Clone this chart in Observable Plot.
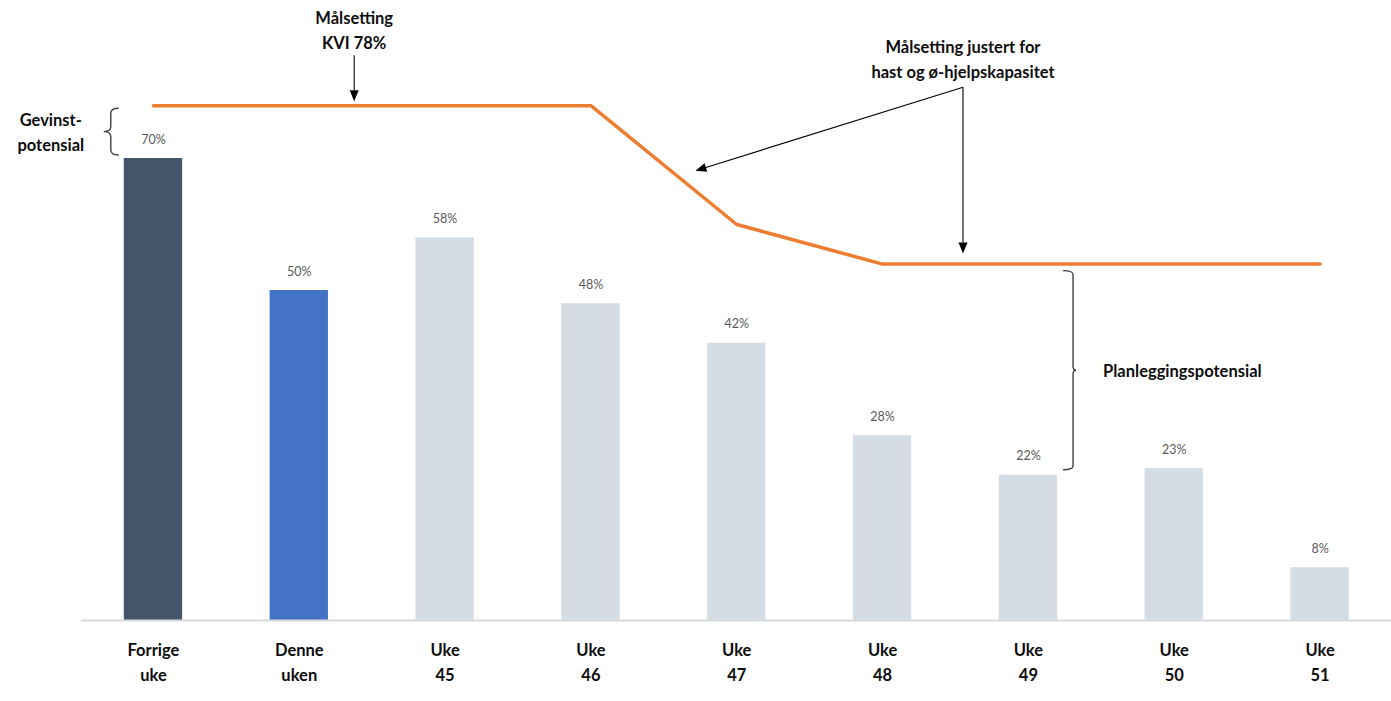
<!DOCTYPE html>
<html>
<head>
<meta charset="utf-8">
<script src="https://cdn.jsdelivr.net/npm/d3@7"></script>
<script src="https://cdn.jsdelivr.net/npm/@observablehq/plot@0.6"></script>
<style>
  html, body { margin: 0; padding: 0; background: #ffffff; }
  #chart { width: 1391px; height: 701px; }
</style>
</head>
<body>
<div id="chart"></div>
<script>
// ---- data ----
const categories = ["Forrige uke", "Denne uken", "Uke 45", "Uke 46", "Uke 47", "Uke 48", "Uke 49", "Uke 50", "Uke 51"];
const values = [70, 50, 58, 48, 42, 28, 22, 23, 8];
const targets = [78, 78, 78, 78, 60, 54, 54, 54, 54];
const barColors = ["#44546a", "#4472c4", "#d6dce5", "#d6dce5", "#d6dce5", "#d6dce5", "#d6dce5", "#d6dce5", "#d6dce5"];
const valueLabels = values.map(v => v + "%");

const goalNote = ["Målsetting", "KVI 78%"];
const adjustedNote = ["Målsetting justert for", "hast og ø-hjelpskapasitet"];
const gainNote = ["Gevinst-", "potensial"];
const planNote = "Planleggingspotensial";

const FONT = "Lato, 'Open Sans', sans-serif";

const rows = categories.map((c, i) => ({cat: c, value: values[i], target: targets[i], color: barColors[i], label: valueLabels[i]}));

// ---- annotation layer (drawn with the plot's scales) ----
function annotations(index, scales) {
  const x = scales.x, y = scales.y;
  const bw = x.bandwidth(), step = x.step();
  const cx = (cat, f = 0) => x(cat) + bw / 2 + f * step;
  const g = d3.create("svg:g").attr("font-family", FONT);

  function arrow(x1, y1, x2, y2) {
    const L = 11, H = 4.5;
    const dx = x2 - x1, dy = y2 - y1, len = Math.hypot(dx, dy);
    const ux = dx / len, uy = dy / len;
    const bx = x2 - ux * L, by = y2 - uy * L;
    g.append("line").attr("x1", x1).attr("y1", y1).attr("x2", bx).attr("y2", by)
      .attr("stroke", "#000").attr("stroke-width", 1.1);
    g.append("polygon")
      .attr("points", `${x2},${y2} ${bx - uy * H},${by + ux * H} ${bx + uy * H},${by - ux * H}`)
      .attr("fill", "#000");
  }
  function brace(xs, yT, yB, dir, e, t, r) {
    const ym = (yT + yB) / 2;
    const xe = xs - dir * e, xt = xs + dir * t;
    const d = `M${xe},${yT} Q${xs},${yT} ${xs},${yT + r} L${xs},${ym - r} Q${xs},${ym} ${xt},${ym} ` +
              `Q${xs},${ym} ${xs},${ym + r} L${xs},${yB - r} Q${xs},${yB} ${xe},${yB}`;
    g.append("path").attr("d", d).attr("fill", "none").attr("stroke", "#404040").attr("stroke-width", 1.4);
  }
  function label(lines, px, py, anchor, gap = 25) {
    const t = g.append("text").attr("text-anchor", anchor).attr("font-weight", "bold")
      .attr("font-size", 16.5).attr("fill", "#0d0d0d");
    lines.forEach((s, i) => t.append("tspan").attr("x", px).attr("y", py + i * gap).attr("dy", "0.35em").text(s));
  }

  // Goal 78% note
  const gx = cx(categories[1], 0.38);
  const gStart = y(targets[0]) - 50, gTip = y(targets[0]) - 4;
  label(goalNote, gx, gStart - 37, "middle");
  arrow(gx, gStart, gx, gTip);

  // Adjusted goal note
  const ax = cx(categories[5], 0.555);
  const aStart = y(targets[0]) - 18;
  label(adjustedNote, ax, aStart - 40, "middle");
  const f = 0.72;
  const dX = cx(categories[3]) + f * (cx(categories[4]) - cx(categories[3]));
  const dY = y(targets[3]) + f * (y(targets[4]) - y(targets[3])) - 20;
  arrow(ax, aStart, dX, dY);
  arrow(ax, aStart, ax, y(targets[5]) - 10);

  // Gain potential brace (between first bar and goal)
  const lxs = x(categories[0]) - 13;
  brace(lxs, y(targets[0]) + 3, y(values[0]) - 3, -1, 8, 7, 5);
  label(gainNote, lxs - 60, (y(targets[0]) + y(values[0])) / 2 - 11, "middle");

  // Planning potential brace (between adjusted goal and Uke 49)
  const rxs = x(categories[6]) + bw + 16;
  const rT = y(targets[6]) + 7, rB = y(values[6]) - 5;
  brace(rxs, rT, rB, 1, 10, 3, 4);
  label([planNote], rxs + 30, (rT + rB) / 2 + 1, "start");

  return g.node();
}

const chart = Plot.plot({
  width: 1391,
  height: 701,
  marginLeft: 81.5,
  marginRight: 0,
  marginTop: 26,
  marginBottom: 81,
  style: {fontFamily: FONT, background: "#ffffff", overflow: "visible"},
  x: {domain: categories, paddingInner: 0.6, paddingOuter: 0.29, round: false, axis: null},
  y: {domain: [0, 90], axis: null},
  marks: [
    Plot.barY(rows, {x: "cat", y: "value", fill: "color"}),
    Plot.ruleY([0], {stroke: "#d9d9d9", strokeWidth: 2}),
    Plot.text(rows, {x: "cat", y: "value", text: "label", dy: -19, fontSize: 12.5, fill: "#595959"}),
    Plot.line(rows, {x: "cat", y: "target", stroke: "#ed7d31", strokeWidth: 3.5, strokeLinejoin: "miter"}),
    Plot.axisX({tickSize: 0, tickPadding: 18, fontSize: 16.5, fontWeight: "bold", fill: "#0d0d0d",
      lineHeight: 1.5, tickFormat: d => d.replace(" ", "\n"), label: null}),
    annotations
  ]
});
document.getElementById("chart").appendChild(chart);
</script>
</body>
</html>
